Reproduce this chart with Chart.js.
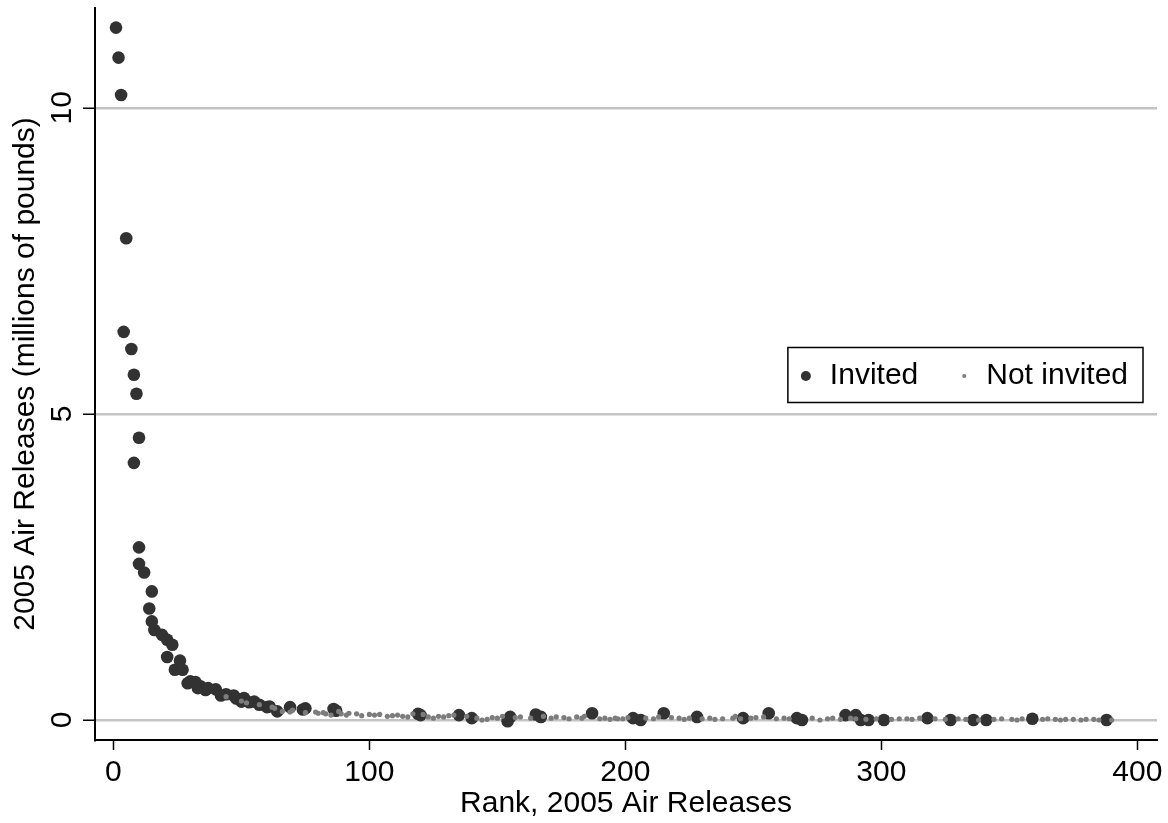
<!DOCTYPE html>
<html>
<head>
<meta charset="utf-8">
<script src="https://cdn.jsdelivr.net/npm/chart.js@4.4.1/dist/chart.umd.min.js"></script>
<style>
  body { margin: 0; background: #fff; }
  canvas { display: block; }
</style>
</head>
<body>
<canvas id="myChart" width="1168" height="823"></canvas>
<script>
// Invited facilities (big dark dots): rank and 2005 air releases (millions of lbs)
const invitedRank = [1, 2, 3, 4, 5, 7, 8, 9, 10, 8, 10, 10, 12, 15, 14, 15, 16, 19, 21, 23,
  21, 26, 24, 27, 29, 30, 32, 33, 34, 36, 37, 40, 42, 44, 47, 48, 50, 51, 53, 55,
  57, 60, 61, 64, 69, 74, 75, 86, 87, 119, 120, 135, 140, 154, 155, 165, 167, 187, 203, 206,
  215, 228, 246, 256, 267, 269, 286, 290, 292, 295, 301, 318, 327, 336, 341, 359, 388];
const invitedValue = [11.31, 10.82, 10.21, 6.34, 7.87, 6.06, 5.64, 5.33, 4.61, 4.20, 2.82, 2.55, 2.41, 2.10, 1.82, 1.61, 1.47, 1.39, 1.31, 1.23,
  1.03, 0.97, 0.82, 0.82, 0.60, 0.63, 0.62, 0.52, 0.55, 0.49, 0.52, 0.50, 0.40, 0.42, 0.40, 0.35, 0.30, 0.36, 0.29, 0.30,
  0.25, 0.21, 0.22, 0.14, 0.21, 0.17, 0.19, 0.18, 0.15, 0.10, 0.08, 0.08, 0.03, -0.02, 0.05, 0.09, 0.05, 0.11, 0.03, 0.00,
  0.11, 0.05, 0.03, 0.11, 0.03, 0.00, 0.08, 0.08, 0.00, 0.00, 0.00, 0.03, 0.00, 0.00, 0.00, 0.02, 0.00];

// Not invited facilities (small grey dots)
const notInvitedRank = [44, 50, 52, 57, 62, 63, 66, 69, 70, 75, 79, 80, 82, 83, 85, 88, 89, 91, 92, 95,
  97, 100, 102, 104, 107, 109, 111, 113, 115, 117, 121, 123, 125, 127, 129, 131, 133, 138, 142, 144,
  146, 148, 150, 152, 157, 159, 163, 168, 171, 173, 176, 178, 181, 183, 184, 190, 192, 194, 196, 197,
  199, 201, 208, 211, 213, 218, 221, 223, 225, 230, 233, 235, 238, 242, 243, 245, 249, 251, 254, 259,
  262, 264, 273, 276, 279, 281, 284, 288, 290, 294, 298, 304, 307, 310, 312, 315, 321, 325, 330, 333,
  338, 344, 347, 351, 353, 355, 363, 365, 368, 370, 372, 375, 378, 380, 383, 385, 390];
const notInvitedValue = [0.38, 0.31, 0.28, 0.25, 0.21, 0.19, 0.14, 0.13, 0.16, 0.12, 0.13, 0.11, 0.12, 0.10, 0.08, 0.14, 0.10, 0.08, 0.11, 0.10,
  0.07, 0.09, 0.08, 0.09, 0.06, 0.07, 0.08, 0.06, 0.05, 0.10, 0.09, 0.05, 0.03, 0.06, 0.05, 0.07, 0.08, 0.06, 0.03, 0.00,
  0.01, 0.04, 0.03, 0.06, 0.04, 0.05, 0.03, 0.06, 0.03, 0.05, 0.04, 0.02, 0.05, 0.03, 0.06, 0.02, 0.03, 0.01, 0.03, 0.02,
  0.02, 0.04, 0.03, 0.02, 0.05, 0.04, 0.03, 0.01, 0.03, 0.02, 0.03, 0.01, 0.02, 0.03, 0.06, 0.02, 0.03, 0.04, 0.05, 0.02,
  0.03, 0.02, 0.03, 0.00, 0.02, 0.03, 0.01, 0.03, 0.02, 0.01, 0.02, 0.01, 0.02, 0.02, 0.01, 0.03, 0.02, 0.01, 0.02, 0.01,
  0.00, 0.01, 0.02, 0.01, 0.00, 0.02, 0.01, 0.02, 0.01, 0.00, 0.01, 0.01, 0.00, 0.01, 0.01, 0.00, 0.00];

const xTicks = [0, 100, 200, 300, 400];
const yTicks = [0, 5, 10];
const seriesNames = ["Invited", "Not invited"];

const darkColor = "#323232";
const greyColor = "#7c7c7c";
const fontFamily = "'Liberation Sans', Arial, sans-serif";

function toPoints(xs, ys) {
  return xs.map((x, i) => ({x: x, y: ys[i]}));
}

// legend box drawn inside the plot, right side, vertically centred
const boxLegend = {
  id: "boxLegend",
  afterDraw(chart) {
    const ctx = chart.ctx;
    const area = chart.chartArea;
    const ds = chart.data.datasets;
    ctx.save();
    ctx.font = "30px " + fontFamily;
    ctx.textBaseline = "middle";
    const w1 = ctx.measureText(ds[0].label).width;
    const w2 = ctx.measureText(ds[1].label).width;
    const boxW = 18 + 24 + w1 + 46 + 22 + w2 + 15;
    const boxH = 55;
    const right = area.right - 14;
    const left = right - boxW;
    const cy = (area.top + area.bottom) / 2 + 1;
    const top = cy - boxH / 2;
    ctx.fillStyle = "#fff";
    ctx.fillRect(left, top, boxW, boxH);
    ctx.strokeStyle = "#000";
    ctx.lineWidth = 1.5;
    ctx.strokeRect(left, top, boxW, boxH);

    let x = left + 18;
    ctx.fillStyle = ds[0].backgroundColor;
    ctx.beginPath();
    ctx.arc(x, cy + 1, 5, 0, Math.PI * 2);
    ctx.fill();
    x += 24;
    ctx.fillStyle = "#000";
    ctx.fillText(ds[0].label, x, cy + 1);
    x += w1 + 46;
    ctx.fillStyle = ds[1].backgroundColor;
    ctx.beginPath();
    ctx.arc(x, cy + 1, 2, 0, Math.PI * 2);
    ctx.fill();
    x += 22;
    ctx.fillStyle = "#000";
    ctx.fillText(ds[1].label, x, cy + 1);
    ctx.restore();
  }
};

new Chart("myChart", {
  type: "scatter",
  data: {
    datasets: [
      {
        label: seriesNames[0],
        data: toPoints(invitedRank, invitedValue),
        backgroundColor: darkColor,
        borderWidth: 0,
        pointRadius: 6.3,
        order: 2
      },
      {
        label: seriesNames[1],
        data: toPoints(notInvitedRank, notInvitedValue),
        backgroundColor: greyColor,
        borderWidth: 0,
        pointRadius: 2.6,
        order: 1
      }
    ]
  },
  options: {
    responsive: false,
    animation: false,
    layout: {padding: {top: 8, right: 11, left: 0, bottom: 0}},
    plugins: {
      legend: {display: false},
      tooltip: {enabled: false}
    },
    scales: {
      x: {
        type: "linear",
        min: -7.2,
        max: 407.7,
        afterBuildTicks: (scale) => { scale.ticks = xTicks.map(v => ({value: v})); },
        afterFit: (scale) => { scale.height = 83; scale.paddingLeft = 0; scale.paddingRight = 0; },
        border: {color: "#000", width: 2},
        grid: {drawOnChartArea: false, tickColor: "#000", tickLength: 10, tickWidth: 1.5},
        ticks: {color: "#000", font: {family: fontFamily, size: 30}, padding: 5, maxRotation: 0},
        title: {
          display: true,
          text: "Rank, 2005 Air Releases",
          color: "#000",
          font: {family: fontFamily, size: 30},
          padding: {top: 0, bottom: 1}
        }
      },
      y: {
        type: "linear",
        min: -0.327,
        max: 11.63,
        afterBuildTicks: (scale) => { scale.ticks = yTicks.map(v => ({value: v})); },
        afterFit: (scale) => { scale.width = 95; scale.paddingTop = 0; scale.paddingBottom = 0; },
        border: {color: "#000", width: 2},
        grid: {color: "rgb(196,196,196)", lineWidth: 2.5, tickColor: "#000", tickLength: 12, tickWidth: 1.5},
        ticks: {color: "#000", font: {family: fontFamily, size: 30}, padding: 4, minRotation: 90, maxRotation: 90, crossAlign: "center"},
        title: {
          display: true,
          text: "2005 Air Releases (millions of pounds)",
          color: "#000",
          font: {family: fontFamily, size: 30},
          padding: {top: 8, bottom: 0}
        }
      }
    }
  },
  plugins: [boxLegend]
});
</script>
</body>
</html>
